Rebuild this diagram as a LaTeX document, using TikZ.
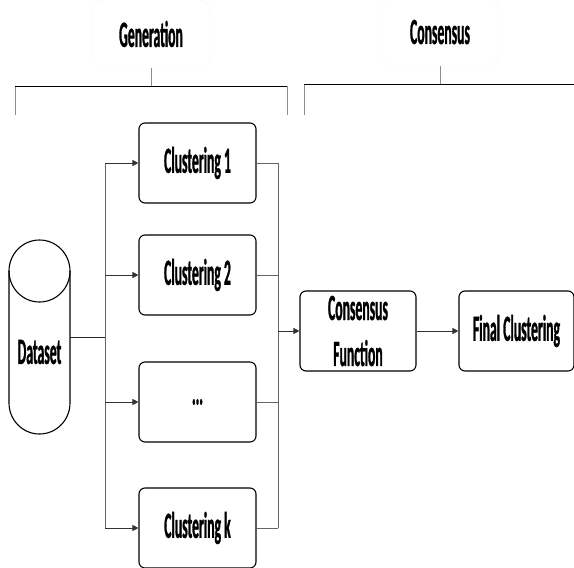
\documentclass[tikz,border=0pt]{standalone}
\usepackage{fontspec}
\setmainfont{Carlito}[FakeStretch=0.37, FakeBold=0.8]
\usetikzlibrary{arrows.meta}

\begin{document}
\begin{tikzpicture}[x=1pt,y=-1pt,
        lbl/.style={font=\bfseries\fontsize{37}{46}\selectfont},
        box/.style={lbl, draw, line width=1.1pt, rounded corners=6pt, minimum width=117pt, minimum height=80pt, inner sep=0pt, align=center},
        head/.style={lbl, draw=black!3, rounded corners=10pt, minimum width=117pt, minimum height=68pt},
        wire/.style={black!60, line width=0.9pt},
        arr/.style={wire, draw=black!80, -{Triangle[length=6pt,width=6pt]}}]
    \useasboundingbox (0,0) rectangle (574,568);
    % headings
    \node[head] (gen) at (151,34) {Generation};
    \node[head] (cons) at (440,32) {Consensus};
    % brackets
    \draw[black!45, line width=0.8pt] (15,115) -- (15,86) (287,86) -- (287,115);
    \draw[line width=0.9pt] (15,86) -- (287,86);
    \draw[black!45, line width=0.8pt] (gen.south) -- (151,86);
    \draw[black!45, line width=0.8pt] (304,115) -- (304,84);
    \draw[line width=0.9pt] (304,84) -- (574,84);
    \draw[black!45, line width=0.8pt] (cons.south) -- (440,84);
    % dataset cylinder
    \node[lbl, minimum width=61pt, inner sep=0pt] (data) at (39.5,352) {Dataset};
    \draw[line width=1.1pt] (39.5,271) ellipse (30.5 and 31);
    \draw[line width=1.1pt] (9,271) -- (9,403) arc (180:0:30.5 and 31) -- (70,271);
    % nodes
    \node[box] (c1) at (197.5,163) {Clustering 1};
    \node[box] (c2) at (197.5,275) {Clustering 2};
    \node[box] (c3) at (197.5,402) {...};
    \node[box] (ck) at (197.5,528) {Clustering k};
    \node[box, minimum width=116pt] (cf) at (358,331) {Consensus\\Function};
    \node[box, minimum width=115pt] (fc) at (516.5,331) {Final Clustering};
    \coordinate (split) at (105,337);
    \coordinate (merge) at (278,331);
    % connectors
    \draw[wire, draw=black!85] (data.east |- split) -- (split);
    \draw[wire] (split |- c1) -- (split |- ck);
    \foreach \n in {c1,c2,c3,ck} {
        \draw[arr] (split |- \n) -- (\n.west);
        \draw[wire] (\n.east) -- (merge |- \n);
    }
    \draw[wire] (merge |- c1) -- (merge |- ck);
    \draw[arr] (merge) -- (cf.west);
    \draw[arr] (cf.east) -- (fc.west);
\end{tikzpicture}
\end{document}
